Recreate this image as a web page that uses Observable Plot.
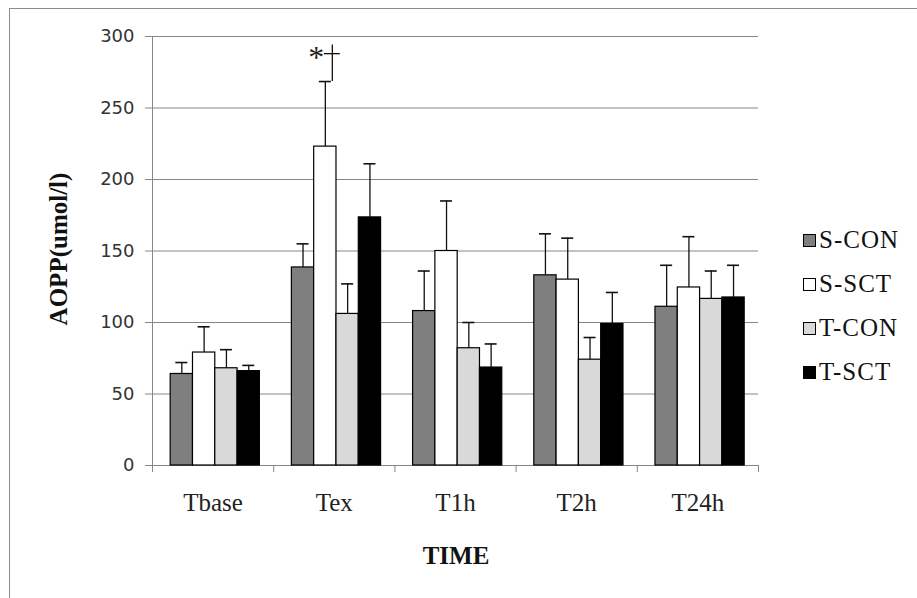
<!DOCTYPE html>
<html>
<head>
<meta charset="utf-8">
<script src="https://cdn.jsdelivr.net/npm/d3@7"></script>
<script src="https://cdn.jsdelivr.net/npm/@observablehq/plot@0.6"></script>
<style>
  body { margin: 0; background: #fff; }
  #wrap { position: relative; width: 917px; height: 598px; overflow: hidden; background: #fff; }
  #border { position: absolute; left: 9px; top: 8px; width: 1000px; height: 1000px; border-left: 1px solid #8c8c8c; border-top: 1px solid #8c8c8c; }
  #chart { position: absolute; left: 0; top: 0; }
  #legend { position: absolute; left: 803px; top: 218px; font-family: "Liberation Serif", serif; font-size: 25px; letter-spacing: 1px; color: #111; }
  .item { display: flex; align-items: center; height: 44px; white-space: nowrap; }
  .sw { width: 11px; height: 11px; border: 1px solid #000; margin-right: 3px; flex: none; }
  #ytitle { position: absolute; left: 59px; top: 249px; transform: translate(-50%, -50%) rotate(-90deg); white-space: nowrap; font-family: "Liberation Serif", serif; font-weight: bold; font-size: 25px; color: #111; }
  #xtitle { position: absolute; left: 456px; top: 556px; transform: translate(-50%, -50%); white-space: nowrap; font-family: "Liberation Serif", serif; font-weight: bold; font-size: 25px; color: #111; }
</style>
</head>
<body>
<div id="wrap">
  <div id="border"></div>
  <div id="chart"></div>
  <div id="ytitle">AOPP(umol/l)</div>
  <div id="xtitle">TIME</div>
  <div id="legend"></div>
</div>
<script>
// ---- data ----
const times = ["Tbase", "Tex", "T1h", "T2h", "T24h"];
const series = ["S-CON", "S-SCT", "T-CON", "T-SCT"];
const sConMean = [64, 138.5, 108, 133, 111];
const sConErr  = [8, 16.5, 28, 29, 29];
const sSctMean = [79, 223, 150, 130, 124.5];
const sSctErr  = [18, 45.5, 35, 29, 35.5];
const tConMean = [68, 106, 82, 74, 116.5];
const tConErr  = [13, 21, 18, 15.5, 19.5];
const tSctMean = [66, 173.5, 68.5, 99, 117.5];
const tSctErr  = [4, 37.5, 16.5, 22, 22.5];
const yTicks = [0, 50, 100, 150, 200, 250, 300];
const annotTime = "Tex", annotSeries = "S-SCT", annotLabel = "*";
const annotBracketTop = 294, annotCross = 288;

const colors = ["#7f7f7f", "#ffffff", "#d9d9d9", "#000000"];
const means = [sConMean, sSctMean, tConMean, tSctMean];
const errs = [sConErr, sSctErr, tConErr, tSctErr];

// layout within each time band (band = 1 unit)
const pad = 0.15, w = 0.184;
const rows = times.flatMap((t, ti) => series.map((s, si) => ({
  time: t, series: s,
  x1: ti + pad + si * w, x2: ti + pad + (si + 1) * w, xc: ti + pad + (si + 0.5) * w,
  mean: means[si][ti], top: means[si][ti] + errs[si][ti]
})));
const annot = rows.filter(r => r.time === annotTime && r.series === annotSeries)
  .map(r => ({...r, bracketTop: annotBracketTop, cross: annotCross, label: annotLabel}));

const chart = Plot.plot({
  width: 917, height: 598,
  marginLeft: 152, marginRight: 159, marginTop: 36, marginBottom: 133,
  x: {domain: [0, times.length], axis: null},
  y: {domain: [0, 300], axis: null},
  color: {domain: series, range: colors},
  style: {background: "transparent", overflow: "visible"},
  marks: [
    Plot.gridY(yTicks, {stroke: "#868686", strokeOpacity: 1}),
    Plot.ruleX([0], {stroke: "#868686"}),
    Plot.axisY(yTicks, {tickSize: 7, tickPadding: 11, fontSize: 18, fontFamily: "DejaVu Sans", stroke: "#868686", fill: "#333", label: null}),
    Plot.axisX(d3.range(times.length + 1), {tickSize: 7, tickFormat: () => "", stroke: "#868686", label: null}),
    Plot.text(times, {x: (d, i) => i + 0.5, y: () => 0, dy: 37, fontSize: 25, fontFamily: "Liberation Serif", fill: "#222"}),
    Plot.rectY(rows, {x1: "x1", x2: "x2", y: "mean", fill: "series", stroke: "#000", strokeWidth: 1.2}),
    Plot.ruleX(rows, {x: "xc", y1: "mean", y2: "top", stroke: "#111", strokeWidth: 1.3}),
    Plot.ruleY(rows, {y: "top", x1: "xc", x2: "xc", insetLeft: -6, insetRight: -6, stroke: "#111", strokeWidth: 1.6}),
    // significance bracket
    Plot.ruleX(annot, {x: "xc", y1: "top", y2: "bracketTop", dx: 7, stroke: "#111", strokeWidth: 1.3}),
    Plot.ruleY(annot, {y: "cross", x1: "xc", x2: "xc", insetLeft: -1, insetRight: -15, stroke: "#111", strokeWidth: 1.3}),
    Plot.text(annot, {x: "xc", y: "cross", text: "label", dx: -9, dy: 4, fontSize: 32, fontFamily: "Liberation Serif", fill: "#222"})
  ]
});
document.getElementById("chart").appendChild(chart);

// legend
const leg = document.getElementById("legend");
series.forEach((s, i) => {
  const item = document.createElement("div");
  item.className = "item";
  const sw = document.createElement("div");
  sw.className = "sw";
  sw.style.background = colors[i];
  item.appendChild(sw);
  const lab = document.createElement("span");
  lab.textContent = s;
  item.appendChild(lab);
  leg.appendChild(item);
});
</script>
</body>
</html>
